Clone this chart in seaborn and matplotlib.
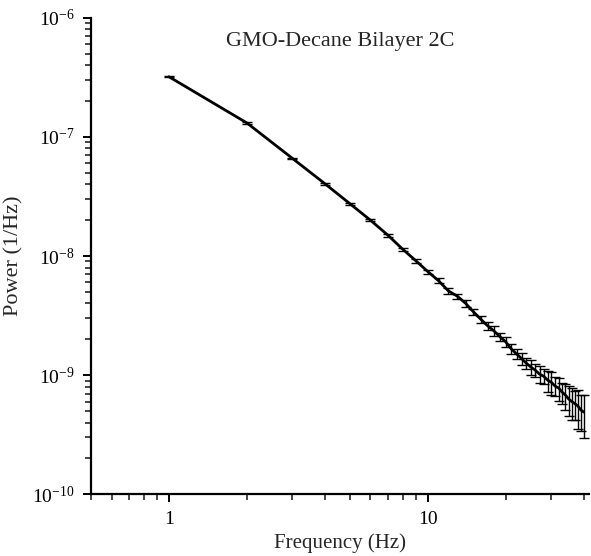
import numpy as np
import pandas as pd
import matplotlib
matplotlib.use('Agg')
import matplotlib.pyplot as plt
import matplotlib.ticker as mticker
import seaborn as sns

# frequency bins (Hz)
freq = list(range(1, 41))

# power spectrum values (1/Hz)
power = [3.2e-7, 1.31e-7, 6.6e-8, 4.05e-8, 2.75e-8, 2.0e-8, 1.5e-8, 1.14e-8, 9.1e-9, 7.4e-9,
         6.2e-9, 5.1e-9, 4.6e-9, 4.0e-9, 3.4e-9, 2.95e-9, 2.6e-9, 2.35e-9, 2.1e-9, 1.9e-9,
         1.66e-9, 1.51e-9, 1.38e-9, 1.26e-9, 1.17e-9, 1.10e-9, 1.02e-9, 9.8e-10, 9.1e-10, 8.7e-10,
         8.1e-10, 7.8e-10, 7.2e-10, 6.8e-10, 6.3e-10, 6.0e-10, 5.75e-10, 5.5e-10, 5.1e-10, 4.9e-10]

# relative size of the error bars
rel_err = [0.01, 0.02, 0.01, 0.02, 0.02, 0.02, 0.03, 0.03, 0.04, 0.04,
           0.05, 0.05, 0.05, 0.06, 0.06, 0.07, 0.08, 0.10, 0.08, 0.09,
           0.10, 0.09, 0.12, 0.11, 0.15, 0.13, 0.16, 0.14, 0.20, 0.22,
           0.18, 0.22, 0.20, 0.25, 0.28, 0.30, 0.27, 0.36, 0.34, 0.40]

y_ticks = [1e-10, 1e-9, 1e-8, 1e-7, 1e-6]

df = pd.DataFrame({'freq': freq, 'power': power, 'rel_err': rel_err})
df['err'] = df['power'] * df['rel_err']

sns.set_style('ticks')
plt.rcParams['font.family'] = ['Liberation Serif', 'DejaVu Serif']
plt.rcParams['mathtext.fontset'] = 'stix'

fig = plt.figure(figsize=(5.91, 5.56), dpi=100)
ax = fig.add_axes([0.154, 0.111, 0.843, 0.857])

ax.errorbar(df['freq'], df['power'], yerr=df['err'], fmt='none',
            ecolor='black', elinewidth=1.0, capsize=3.5, capthick=1.0)
sns.lineplot(data=df, x='freq', y='power', color='black', linewidth=2.0, ax=ax)

ax.set_xscale('log')
ax.set_yscale('log')
ax.set_xlim(0.5, 42)
ax.set_ylim(1e-10, 1e-6)

ax.xaxis.set_major_locator(mticker.FixedLocator([1, 10]))
ax.xaxis.set_major_formatter(mticker.FixedFormatter(['1', '10']))
ax.xaxis.set_minor_locator(mticker.LogLocator(base=10, subs=np.arange(2, 10), numticks=10))
ax.xaxis.set_minor_formatter(mticker.NullFormatter())

ax.yaxis.set_major_locator(mticker.FixedLocator(y_ticks))
ax.yaxis.set_major_formatter(mticker.FuncFormatter(lambda v, p: r'$\mathregular{10^{%d}}$' % round(np.log10(v))))
ax.yaxis.set_minor_locator(mticker.LogLocator(base=10, subs=np.arange(2, 10), numticks=10))
ax.yaxis.set_minor_formatter(mticker.NullFormatter())

for s in ['top', 'right']:
    ax.spines[s].set_visible(False)
for s in ['left', 'bottom']:
    ax.spines[s].set_linewidth(1.6)
    ax.spines[s].set_color('black')

ax.tick_params(which='major', direction='out', length=6, width=1.4, labelsize=14, pad=6, colors='black')
ax.tick_params(which='minor', direction='out', length=4, width=1.2)

ax.set_xlabel('Frequency (Hz)', fontsize=15, labelpad=4)
ax.set_ylabel('Power (1/Hz)', fontsize=16, labelpad=6)
ax.text(0.5, 0.97, 'GMO-Decane Bilayer 2C', transform=ax.transAxes,
        ha='center', va='top', fontsize=16)

fig.savefig('out.png', dpi=100)
